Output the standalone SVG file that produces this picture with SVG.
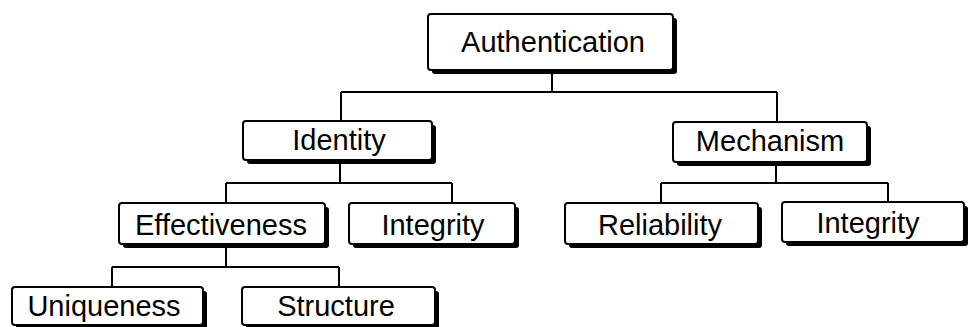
<svg xmlns="http://www.w3.org/2000/svg" width="970" height="327" viewBox="0 0 970 327">
<style>
.sh{fill:#000}
.bx{fill:#fff;stroke:#000;stroke-width:2}
.t{font-family:"Liberation Sans",Arial,sans-serif;font-size:29px;fill:#000;text-anchor:middle}
.c{fill:none;stroke:#000;stroke-width:2}
</style>
<rect width="970" height="327" fill="#fff"/>
<g id="connectors" class="c">
<path d="M552 70V92M341 92H777M341 92V121M777 92V122"/>
<path d="M340 160V183M226 183H452M226 183V203M452 183V203"/>
<path d="M776 162V183M661 183H888M661 183V203M888 183V202"/>
<path d="M226 244V267M112 267H339M112 267V287M339 267V287"/>
</g>
<g id="authentication"><rect class="sh" x="432" y="18" width="245" height="56" rx="3"/><rect class="bx" x="428" y="14" width="245" height="56" rx="3"/><text class="t" x="553" y="52">Authentication</text></g>
<g id="identity"><rect class="sh" x="247" y="125" width="189" height="39" rx="3"/><rect class="bx" x="243" y="121" width="189" height="39" rx="3"/><text class="t" x="339" y="150">Identity</text></g>
<g id="mechanism"><rect class="sh" x="677" y="126" width="194" height="40" rx="3"/><rect class="bx" x="673" y="122" width="194" height="40" rx="3"/><text class="t" x="770" y="151">Mechanism</text></g>
<g id="effectiveness"><rect class="sh" x="123" y="207" width="206" height="41" rx="3"/><rect class="bx" x="119" y="203" width="206" height="41" rx="3"/><text class="t" x="221" y="235">Effectiveness</text></g>
<g id="integrity-identity"><rect class="sh" x="353" y="207" width="166" height="41" rx="3"/><rect class="bx" x="349" y="203" width="166" height="41" rx="3"/><text class="t" x="433" y="235">Integrity</text></g>
<g id="reliability"><rect class="sh" x="569" y="207" width="193" height="41" rx="3"/><rect class="bx" x="565" y="203" width="193" height="41" rx="3"/><text class="t" x="660" y="235">Reliability</text></g>
<g id="integrity-mechanism"><rect class="sh" x="786" y="206" width="182" height="40" rx="3"/><rect class="bx" x="782" y="202" width="182" height="40" rx="3"/><text class="t" x="868" y="233">Integrity</text></g>
<g id="uniqueness"><rect class="sh" x="16" y="291" width="191" height="38" rx="3"/><rect class="bx" x="12" y="287" width="191" height="38" rx="3"/><text class="t" x="104" y="316">Uniqueness</text></g>
<g id="structure"><rect class="sh" x="246" y="291" width="193" height="38" rx="3"/><rect class="bx" x="242" y="287" width="193" height="38" rx="3"/><text class="t" x="336" y="316">Structure</text></g>
</svg>
